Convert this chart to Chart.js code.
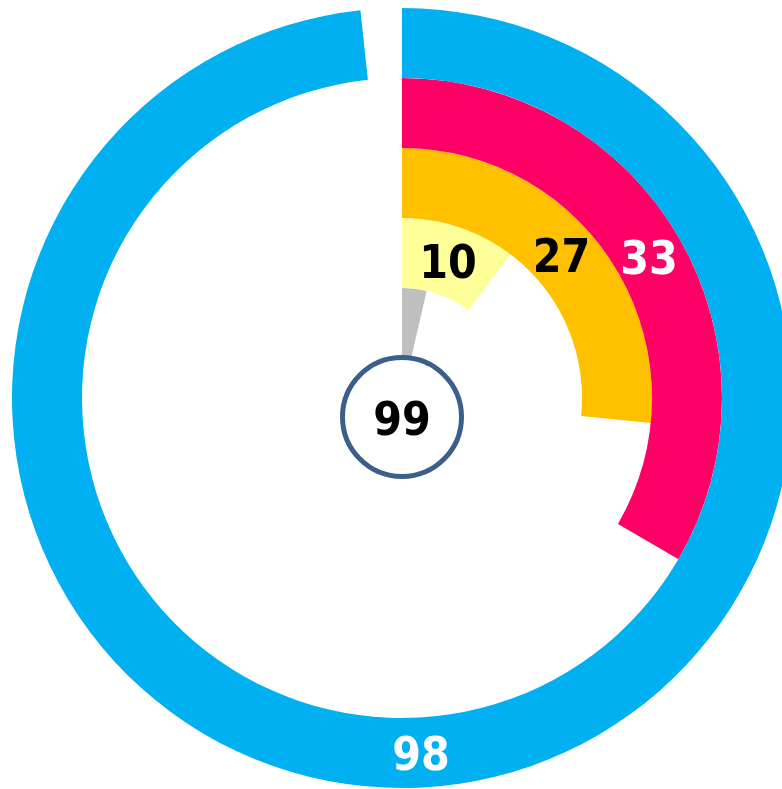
<!DOCTYPE html>
<html>
<head>
<meta charset="utf-8">
<script src="https://cdn.jsdelivr.net/npm/chart.js@4"></script>
<style>
  html, body { margin: 0; padding: 0; background: #fff; overflow: hidden; }
  #wrap { position: absolute; left: 12px; top: 8px; width: 780px; height: 780px; }
</style>
</head>
<body>
<div id="wrap"><canvas id="myChart" width="780" height="780"></canvas></div>
<script>
// rings from outside to inside
var rings = ['Ring 1', 'Ring 2', 'Ring 3', 'Ring 4', 'Ring 5'];
var values = [98.3, 33.4, 26.6, 10.3, 3.6];
var maxValue = 100;
var centerValue = [99];

var colors = ['#00B0F0', '#FF0066', '#FFC000', '#FFFF99', '#BFBFBF'];
var labelColors = ['#FFFFFF', '#FFFFFF', '#000000', '#000000', null];
var ringWeights = [70, 70, 70, 70, 110];

var labelFont = 'bold 46px "DejaVu Sans Condensed", "DejaVu Sans", sans-serif';

var ringLabels = {
    id: 'ringLabels',
    afterDatasetsDraw: function(chart) {
        var ctx = chart.ctx;
        ctx.save();
        ctx.font = labelFont;
        ctx.textAlign = 'center';
        ctx.textBaseline = 'middle';
        chart.data.datasets.forEach(function(ds, i) {
            if (!labelColors[i]) return;
            var p = chart.getDatasetMeta(i).data[0].tooltipPosition();
            ctx.fillStyle = labelColors[i];
            ctx.fillText(Math.round(values[i]), p.x, p.y + 6);
        });

        // badge with the total in the middle
        var c = chart.getDatasetMeta(0).data[0];
        ctx.beginPath();
        ctx.arc(c.x, c.y + 19, 59.5, 0, Math.PI * 2);
        ctx.fillStyle = '#FFFFFF';
        ctx.fill();
        ctx.lineWidth = 5;
        ctx.strokeStyle = '#3A5F8B';
        ctx.stroke();
        ctx.fillStyle = '#000000';
        ctx.fillText(centerValue[0], c.x, c.y + 25);
        ctx.restore();
    }
};

var ctx = document.getElementById('myChart').getContext('2d');
var myChart = new Chart(ctx, {
    type: 'doughnut',
    data: {
        labels: ['value', 'rest'],
        datasets: rings.map(function(name, i) {
            return {
                label: name,
                data: [values[i], maxValue - values[i]],
                backgroundColor: [colors[i], 'rgba(0,0,0,0)'],
                borderWidth: 0,
                hoverBorderWidth: 0,
                weight: ringWeights[i]
            };
        })
    },
    options: {
        responsive: false,
        animation: false,
        cutout: 0,
        events: [],
        plugins: {
            legend: { display: false },
            tooltip: { enabled: false }
        }
    },
    plugins: [ringLabels]
});
</script>
</body>
</html>
